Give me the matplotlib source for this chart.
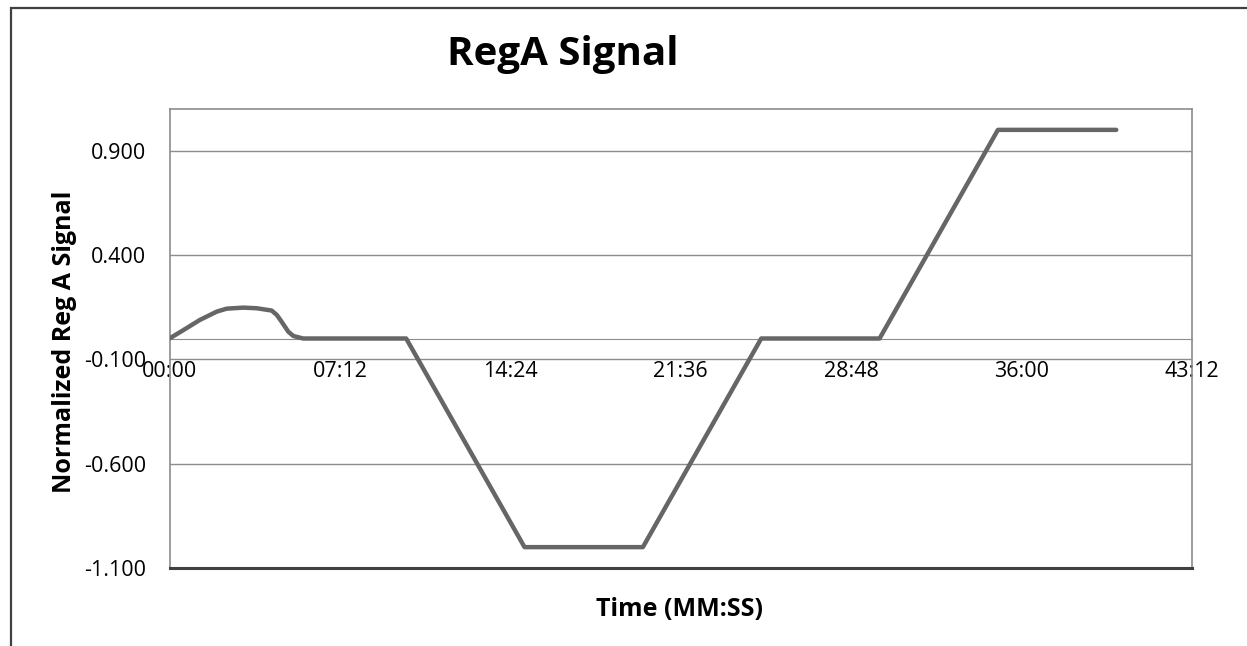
import matplotlib
matplotlib.use("Agg")
import matplotlib.pyplot as plt
from matplotlib.ticker import FuncFormatter, FixedLocator
from matplotlib.patches import Rectangle

# time in seconds, normalized RegA signal
time_s = [0, 35, 77, 120, 145, 187, 221, 259, 272, 284, 301, 314, 339,
          600, 900, 1200, 1500, 1800, 2100, 2400]
reg_a = [0.0, 0.04, 0.089, 0.129, 0.143, 0.148, 0.145, 0.134, 0.113, 0.081,
         0.033, 0.012, 0.0,
         0.0, -1.0, -1.0, 0.0, 0.0, 1.0, 1.0]

x_ticks = [0, 432, 864, 1296, 1728, 2160, 2592]
y_ticks = [-1.1, -0.6, -0.1, 0.4, 0.9]

W, H = 1247, 646
fig = plt.figure(figsize=(W / 100, H / 100), dpi=100)
plt.rcParams['font.family'] = ['Open Sans', 'DejaVu Sans']

ax = fig.add_axes([169.5 / W, 1 - 568 / H, (1192 - 169.5) / W, (568 - 109) / H])
ax.plot(time_s, reg_a, color='#666666', lw=3.2, solid_capstyle='round',
        solid_joinstyle='round', zorder=3)

ax.set_xlim(0, 2592)
ax.set_ylim(-1.1, 1.1)
ax.xaxis.set_major_locator(FixedLocator(x_ticks))
ax.yaxis.set_major_locator(FixedLocator(y_ticks))
ax.xaxis.set_major_formatter(FuncFormatter(lambda v, p: f"{int(v) // 60:02d}:{int(v) % 60:02d}"))
ax.yaxis.set_major_formatter(FuncFormatter(lambda v, p: f"{v:.3f}"))
ax.grid(axis='y', color='#8c8c8c', lw=1)

ax.spines['bottom'].set_position(('data', 0))
ax.spines['bottom'].set_color('#8c8c8c')
for s in ['left', 'right', 'top']:
    ax.spines[s].set_color('#8c8c8c')
    ax.spines[s].set_linewidth(1.2)
ax.plot([0, 1], [0, 0], transform=ax.transAxes, color='#404040', lw=2.2,
        clip_on=False, zorder=4)

ax.tick_params(axis='x', length=0, pad=16, labelsize=15.5)
ax.tick_params(axis='y', length=0, pad=17, labelsize=15.5)

fig.text(563 / W, 1 - 55 / H, 'RegA Signal', fontsize=29, fontweight='bold',
         ha='center', va='center')
fig.text(65 / W, 1 - 342 / H, 'Normalized Reg A Signal', fontsize=18,
         fontweight='bold', rotation=90, ha='center', va='center')
fig.text(680 / W, 1 - 610 / H, 'Time (MM:SS)', fontsize=18,
         fontweight='bold', ha='center', va='center')

# outer chart border
fig.patches.append(Rectangle((11 / W, -0.1), 1.2, 1 - 7.5 / H + 0.1,
                             transform=fig.transFigure, fill=False,
                             edgecolor='#404040', lw=1.6))

fig.savefig('out.png', dpi=100)
